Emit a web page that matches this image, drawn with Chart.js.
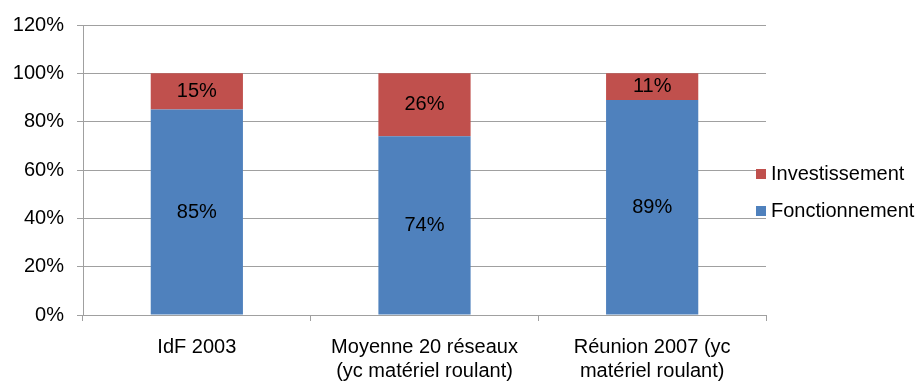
<!DOCTYPE html>
<html>
<head>
<meta charset="utf-8">
<script src="https://cdn.jsdelivr.net/npm/chart.js@4/dist/chart.umd.min.js"></script>
<style>
  html, body { margin:0; padding:0; background:#fff; }
  #wrap { width:920px; height:383px; position:relative; }
</style>
</head>
<body>
<div id="wrap"><canvas id="chart" width="920" height="383"></canvas></div>
<script>
const categories = [
  ['IdF 2003'],
  ['Moyenne 20 réseaux', '(yc matériel roulant)'],
  ['Réunion 2007 (yc', 'matériel roulant)']
];
const fonctionnement = [85, 74, 89];
const investissement = [15, 26, 11];
const yTicks = [0, 20, 40, 60, 80, 100, 120];

const FONT = 'Liberation Sans, Arial, sans-serif';

// labels inside each segment
const segLabels = {
  id: 'segLabels',
  afterDatasetsDraw(chart) {
    const ctx = chart.ctx;
    ctx.save();
    ctx.font = '20px ' + FONT;
    ctx.fillStyle = '#000';
    ctx.textAlign = 'center';
    ctx.textBaseline = 'middle';
    chart.data.datasets.forEach((ds, di) => {
      chart.getDatasetMeta(di).data.forEach((bar, i) => {
        const mid = (bar.y + bar.base) / 2;
        ctx.fillText(ds.data[i] + '%', bar.x, mid);
      });
    });
    ctx.restore();
  }
};

// legend on the right, Investissement above Fonctionnement
const sideLegend = {
  id: 'sideLegend',
  afterDraw(chart) {
    const ctx = chart.ctx;
    const items = chart.data.datasets.slice().reverse();
    ctx.save();
    ctx.font = '20px ' + FONT;
    ctx.textBaseline = 'middle';
    items.forEach((ds, k) => {
      const cy = 174 + k * 37;
      ctx.fillStyle = ds.backgroundColor;
      ctx.fillRect(756, cy - 5, 10, 10);
      ctx.fillStyle = '#000';
      ctx.fillText(ds.label, 771, cy);
    });
    ctx.restore();
  }
};

new Chart(document.getElementById('chart'), {
  type: 'bar',
  data: {
    labels: categories,
    datasets: [
      { label: 'Fonctionnement', data: fonctionnement, backgroundColor: '#4F81BD', categoryPercentage: 1, barPercentage: 0.405 },
      { label: 'Investissement', data: investissement, backgroundColor: '#C0504D', categoryPercentage: 1, barPercentage: 0.405 }
    ]
  },
  options: {
    responsive: false,
    animation: false,
    layout: { padding: { left: 0, right: 154, top: 23, bottom: 0 } },
    plugins: { legend: { display: false }, tooltip: { enabled: false } },
    scales: {
      x: {
        stacked: true,
        afterFit(s) { s.height = 383 - 315; },
        grid: { display: true, drawOnChartArea: false, drawTicks: true, tickLength: 6, color: '#a0a0a0', offset: true },
        border: { color: '#a0a0a0' },
        ticks: { color: '#000', font: { family: FONT, size: 20, lineHeight: 1.2 }, padding: 14, maxRotation: 0, autoSkip: false }
      },
      y: {
        stacked: true,
        min: 0, max: 120,
        afterFit(s) { s.width = 83; },
        afterBuildTicks(s) { s.ticks = yTicks.map(v => ({ value: v })); },
        grid: { color: '#a0a0a0', tickLength: 6 },
        border: { color: '#a0a0a0' },
        ticks: { color: '#000', font: { family: FONT, size: 20 }, padding: 13, callback: v => v + '%' }
      }
    }
  },
  plugins: [segLabels, sideLegend]
});
</script>
</body>
</html>
